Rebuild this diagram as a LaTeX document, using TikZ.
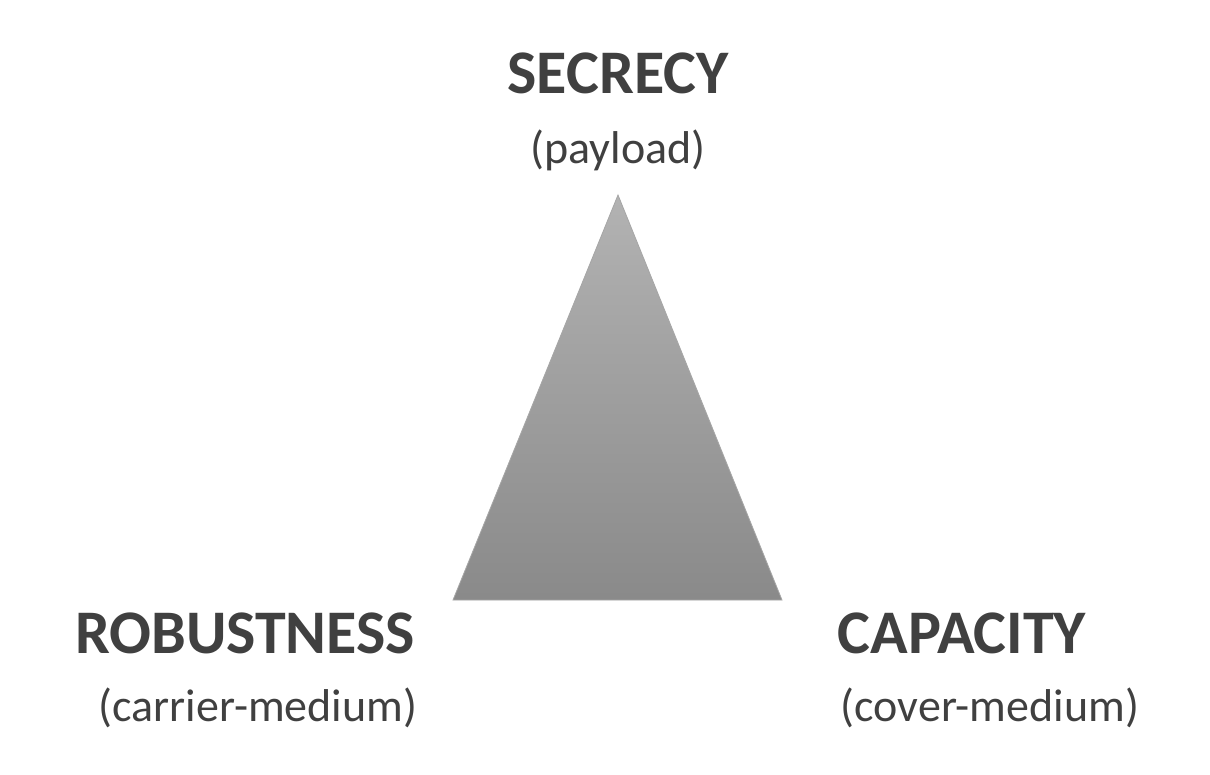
\documentclass[tikz,border=0pt]{standalone}
\usepackage{fontspec}
\setmainfont{Carlito}
\definecolor{txt}{HTML}{404040}
\begin{document}
\begin{tikzpicture}[x=1pt,y=-1pt,
  big/.style={font=\fontsize{62}{62}\selectfont\bfseries,text=txt,inner sep=0pt},
  small/.style={font=\fontsize{46}{46}\selectfont,text=txt,inner sep=0pt}]
\useasboundingbox (0,0) rectangle (1210,774);
\coordinate (A) at (618,195);
\coordinate (B) at (453,600);
\coordinate (C) at (782,600);
\shade[top color=black!30,bottom color=black!46,draw=black!35,line width=0.8pt] (A) -- (B) -- (C) -- cycle;
\node[big] (sec) at (618,73) {SECRECY};
\node[small] (pay) at (618,150) {(payload)};
\node[big] (rob) at (245,633) {ROBUSTNESS};
\node[small] (car) at (258,708) {(carrier-medium)};
\node[big] (cap) at (962,633) {CAPACITY};
\node[small] (cov) at (990,708) {(cover-medium)};
\end{tikzpicture}
\end{document}
